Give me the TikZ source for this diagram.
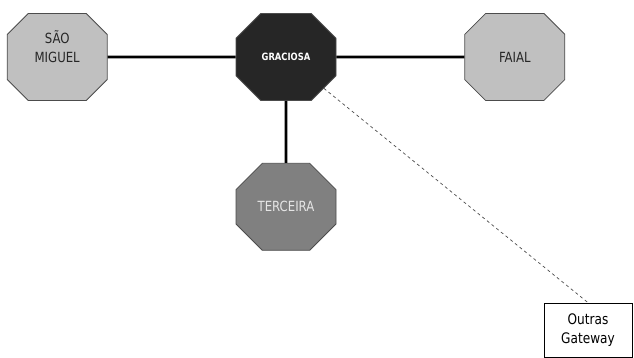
\documentclass[tikz,border=0pt]{standalone}
\usepackage{fontspec}
\setmainfont{DejaVu Sans Condensed}[FakeStretch=0.93]
\usetikzlibrary{positioning,shapes.misc}
\definecolor{ilhaclara}{RGB}{192,192,192}
\definecolor{ilhamedia}{RGB}{128,128,128}
\definecolor{ilhaescura}{RGB}{38,38,38}
\tikzset{
ilha/.style={chamfered rectangle,chamfered rectangle xsep=21pt,chamfered rectangle ysep=21pt,
  draw=black!70,line width=0.8pt,minimum width=100pt,minimum height=87pt,inner sep=0pt,
  text=black!85,font=\fontsize{14}{19}\selectfont},
ligacao/.style={line width=2.6pt},
gateway/.style={draw,line width=0.7pt,minimum width=88pt,minimum height=54pt,align=center,
  font=\fontsize{14.5}{19}\selectfont}
}
\begin{document}
\begin{tikzpicture}[x=1pt,y=1pt]
\useasboundingbox (0,0) rectangle (634,-358);
\node[ilha,fill=ilhaescura,text=white,font=\bfseries\fontsize{10}{11}\selectfont](graciosa) at (286,-57) {GRACIOSA};
\node[ilha,fill=ilhaclara,left=128pt of graciosa](saomiguel) {\smash{\raisebox{4pt}{\begin{tabular}{@{}c@{}}SÃO\\MIGUEL\end{tabular}}}};
\node[ilha,fill=ilhaclara,right=128pt of graciosa](faial) {FAIAL};
\node[ilha,fill=ilhamedia,text=white!90!black,below=62pt of graciosa](terceira) {TERCEIRA};
\node[gateway](outras) at (588,-330) {Outras\\Gateway};
\draw[ligacao](saomiguel)--(graciosa);
\draw[ligacao](graciosa)--(faial);
\draw[ligacao](graciosa)--(terceira);
\draw[dashed,line width=0.7pt,black!70](graciosa.south east)--(outras.north);
\end{tikzpicture}
\end{document}
